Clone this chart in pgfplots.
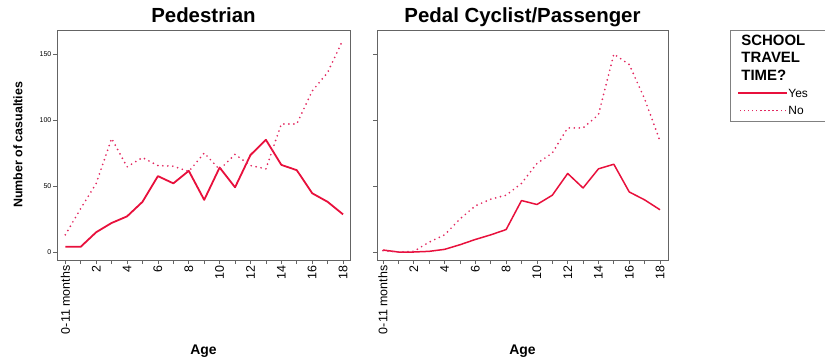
\documentclass[border=0pt]{standalone}
\usepackage{pgfplots}
\pgfplotsset{compat=1.18}
\usepackage{fontspec}
\setmainfont{Liberation Sans}
\definecolor{yescol}{RGB}{232,16,60}
\definecolor{nocol}{RGB}{226,40,96}
\definecolor{framecol}{RGB}{100,100,100}

\pgfplotstableread{
pos ped_yes ped_no cyc_yes cyc_no
0   4     13    1.5   1
1   4     33    0     0
2   15    52    0     0.5
3   22    86    0.5   7.5
4   27    64.5  2     13
5   38    71.5  5.5   25
6   57.5  65.5  9.5   35
7   52    65    13    40
8   61.5  61    17    43
9   39.5  75    39    52
10  64    62.5  36    67
11  49    74    43    75
12  73.5  65.5  59.5  94
13  85    63    48.5  94
14  66    97    63    104
15  62    97    66.5  150
16  44.5  122   45.5  142
17  38    136   39.5  116
18  28.5  161   32    84
}\datatable

\pgfplotsset{
  panel/.style={
    scale only axis, height=230bp,
    ymin=-6.06, ymax=168.2,
    axis line style={framecol, line width=0.8bp},
    every tick/.style={framecol, line width=0.8bp},
    tick align=outside, xtick pos=left, ytick pos=left,
    major tick length=4bp, minor tick length=4bp,
    xtick={0,2,4,6,8,10,12,14,16,18},
    minor xtick={1,3,5,7,9,11,13,15,17},
    xticklabels={0-11 months,2,4,6,8,10,12,14,16,18},
    ytick={0,50,100,150},
    x tick label style={rotate=90, anchor=east, font=\fontsize{12.5}{12.5}\selectfont, inner sep=1.5bp},
    y tick label style={font=\fontsize{7}{7}\selectfont, inner sep=1.5bp},
    /pgf/number format/assume math mode=true,
    title style={font=\bfseries\fontsize{20.5}{20.5}\selectfont, at={(axis description cs:0.5,1)}, anchor=base, yshift=1.7bp},
    xlabel style={font=\bfseries\fontsize{14}{14}\selectfont, at={(axis description cs:0.5,-0.413)}, anchor=base},
    clip=false,
  },
}
\newcommand{\legtitle}[1]{{\bfseries\fontsize{15}{15}\selectfont #1}}
\newcommand{\yesimg}{\makebox[47bp][l]{\hspace*{-3bp}\textcolor{yescol}{\rule[4bp]{49bp}{1.3bp}}}}
\newcommand{\noimg}{\makebox[47bp][l]{\hspace*{-3bp}\textcolor{nocol}{\raisebox{3.5bp}{\hbox to 49bp{\xleaders\hbox to 4bp{\hss\rule{1.4bp}{1.4bp}\hss}\hfill}}}}}

\begin{document}
\begin{tikzpicture}[x=1bp,y=1bp]
\path[use as bounding box] (0,0) rectangle (825,358);

\begin{axis}[panel,
  at={(57bp,98bp)}, anchor=south west, width=293bp,
  xmin=-0.54, xmax=18.45,
  title={Pedestrian}, xlabel={Age},
  ylabel={Number of casualties},
  ylabel style={font=\bfseries\fontsize{12.5}{12.5}\selectfont, at={(axis description cs:-0.133,0.5)}, anchor=center},
]
\addplot[color=yescol, line width=1.8bp, line join=round, no markers] table[x=pos, y=ped_yes] {\datatable};
\addplot[color=nocol, line width=1.9bp, line cap=round, dash pattern=on 0bp off 5bp, no markers] table[x=pos, y=ped_no] {\datatable};
\end{axis}

\begin{axis}[panel,
  at={(377bp,98bp)}, anchor=south west, width=291bp,
  xmin=-0.39, xmax=18.52,
  yticklabels={},
  title={Pedal Cyclist/Passenger}, xlabel={Age},
  legend cell align=left,
  legend style={at={(axis description cs:1.213,1)}, anchor=north west,
    draw=gray, line width=0.8bp, inner xsep=10bp, inner ysep=2bp,
    column sep=1bp, row sep=0bp,
    font=\fontsize{12}{12}\selectfont,
    nodes={inner sep=0bp, text height=13bp, text depth=4.4bp}},
]
\addplot[color=yescol, line width=1.5bp, line join=round, no markers, forget plot] table[x=pos, y=cyc_yes] {\datatable};
\addplot[color=nocol, line width=1.9bp, line cap=round, dash pattern=on 0bp off 5bp, no markers, forget plot] table[x=pos, y=cyc_no] {\datatable};
\addlegendimage{empty legend}
\addlegendentry{\legtitle{SCHOOL}\rule{0pt}{20bp}}
\addlegendimage{empty legend}
\addlegendentry{\legtitle{TRAVEL}}
\addlegendimage{empty legend}
\addlegendentry{\legtitle{TIME?}}
\addlegendimage{empty legend}
\addlegendentry{\makebox[85bp][l]{\yesimg Yes}}
\addlegendimage{empty legend}
\addlegendentry{\makebox[85bp][l]{\noimg No}}
\end{axis}
\end{tikzpicture}
\end{document}
